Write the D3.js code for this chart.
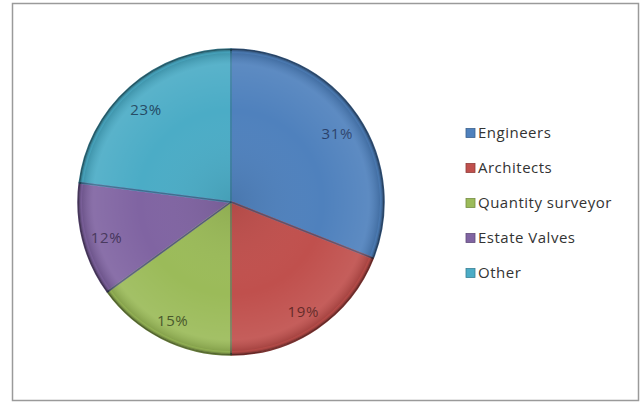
<!DOCTYPE html>
<html>
<head>
<meta charset="utf-8">
<script src="https://cdn.jsdelivr.net/npm/d3@7"></script>
<style>
  body { margin: 0; background: #fff; }
  svg { display: block; }
</style>
</head>
<body>
<div id="chart"></div>
<script>
const categories = ["Engineers", "Architects", "Quantity surveyor", "Estate Valves", "Other"];
const values = [31, 19, 15, 12, 23];
const colors = ["#4f81bd", "#c0504d", "#9bbb59", "#8064a2", "#4bacc6"];
const labelColors = ["#1f3864", "#5a1c1a", "#3c4d1c", "#3b2b52", "#17405a"];

const width = 644;
const height = 403;
const cx = 231;
const cy = 202;
const radius = 153;

const data = categories.map((c, i) => ({ name: c, value: values[i] }));

const svg = d3.select("#chart")
    .append("svg")
    .attr("width", width)
    .attr("height", height)
    .attr("viewBox", [0, 0, width, height]);

// outer frame
svg.append("rect")
    .attr("x", 12.5)
    .attr("y", 3.5)
    .attr("width", 626)
    .attr("height", 397)
    .attr("fill", "#fff")
    .attr("stroke", "#9a9a9a")
    .attr("stroke-width", 1.5);

const defs = svg.append("defs");

// bevel-ish shading over the whole pie
const shade = defs.append("radialGradient")
    .attr("id", "shade")
    .attr("gradientUnits", "userSpaceOnUse")
    .attr("cx", cx).attr("cy", cy).attr("r", radius);
shade.append("stop").attr("offset", "0%").attr("stop-color", "#000").attr("stop-opacity", 0.08);
shade.append("stop").attr("offset", "60%").attr("stop-color", "#fff").attr("stop-opacity", 0.0);
shade.append("stop").attr("offset", "90%").attr("stop-color", "#fff").attr("stop-opacity", 0.08);
shade.append("stop").attr("offset", "97%").attr("stop-color", "#000").attr("stop-opacity", 0.12);
shade.append("stop").attr("offset", "100%").attr("stop-color", "#000").attr("stop-opacity", 0.35);

const pie = d3.pie()
    .value(d => d.value)
    .sort(null);

const arc = d3.arc()
    .innerRadius(0)
    .outerRadius(radius);

const labelArc = d3.arc()
    .innerRadius(radius * 0.68)
    .outerRadius(radius);

const arcs = pie(data);

const g = svg.append("g")
    .attr("transform", `translate(${cx},${cy})`);

g.selectAll("path.slice")
    .data(arcs)
    .join("path")
    .attr("class", "slice")
    .attr("d", arc)
    .attr("fill", (d, i) => colors[i])
    .attr("stroke", (d, i) => d3.color(colors[i]).darker(1.2))
    .attr("stroke-width", 1.5)
    .attr("stroke-linejoin", "round");

// light inner edge to fake the bevel
g.selectAll("path.hl")
    .data(arcs)
    .join("path")
    .attr("class", "hl")
    .attr("d", d3.arc().innerRadius(0).outerRadius(radius - 3))
    .attr("fill", "none")
    .attr("stroke", (d, i) => d3.color(colors[i]).brighter(0.6))
    .attr("stroke-opacity", 0.55)
    .attr("stroke-width", 2);

// overall shading circle
svg.append("circle")
    .attr("cx", cx)
    .attr("cy", cy)
    .attr("r", radius)
    .attr("fill", "url(#shade)")
    .attr("pointer-events", "none");

// seams
g.selectAll("line.seam")
    .data(arcs)
    .join("line")
    .attr("class", "seam")
    .attr("x1", 0).attr("y1", 0)
    .attr("x2", d => Math.sin(d.startAngle) * radius)
    .attr("y2", d => -Math.cos(d.startAngle) * radius)
    .attr("stroke", "#1d3a55")
    .attr("stroke-opacity", 0.55)
    .attr("stroke-width", 1.5);

// percentage labels
g.selectAll("text.pct")
    .data(arcs)
    .join("text")
    .attr("class", "pct")
    .attr("transform", d => `translate(${labelArc.centroid(d)})`)
    .attr("text-anchor", "middle")
    .attr("dy", "0.6em")
    .attr("fill", (d, i) => labelColors[i])
    .style("font-family", "'Open Sans', sans-serif")
    .style("font-size", "15px")
    .style("letter-spacing", "0.6px")
    .text(d => d.data.value + "%");

// legend
const legendX = 466;
const legendY = 133;
const legendStep = 35;

const legend = svg.append("g")
    .selectAll("g")
    .data(data)
    .join("g")
    .attr("transform", (d, i) => `translate(${legendX},${legendY + i * legendStep})`);

legend.append("rect")
    .attr("x", 0)
    .attr("y", -4.5)
    .attr("width", 9)
    .attr("height", 9)
    .attr("fill", (d, i) => colors[i])
    .attr("stroke", (d, i) => d3.color(colors[i]).darker(0.8))
    .attr("stroke-width", 0.8);

legend.append("text")
    .attr("x", 12)
    .attr("dy", "0.35em")
    .attr("fill", "#333")
    .style("font-family", "'Open Sans', sans-serif")
    .style("font-size", "15px")
    .style("letter-spacing", "0.5px")
    .text(d => d.name);
</script>
</body>
</html>
